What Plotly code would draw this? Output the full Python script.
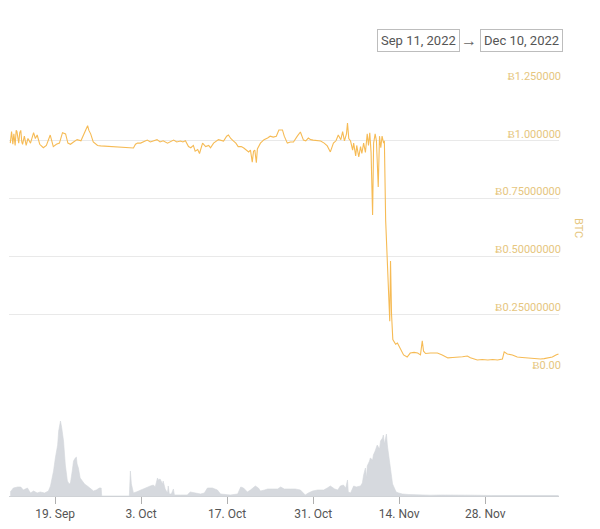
import pandas as pd
import plotly.graph_objects as go

# ---- price (BTC) ----
price_times = [
    "09-11 17", "09-11 22", "09-12 03", "09-12 07", "09-12 12", "09-12 16", "09-12 19", "09-13 02",
    "09-13 06", "09-13 10", "09-13 14", "09-13 17", "09-14 00", "09-14 07", "09-14 14", "09-15 00",
    "09-15 12", "09-15 19", "09-16 02", "09-16 12", "09-17 02", "09-17 14", "09-18 05", "09-18 17",
    "09-19 05", "09-19 17", "09-20 05", "09-20 17", "09-21 02", "09-21 12", "09-22 00", "09-22 14",
    "09-23 05", "09-23 17", "09-24 00", "09-24 07", "09-24 12", "09-24 19", "09-25 05", "09-25 22",
    "09-26 10",
    "10-01 18", "10-02 02", "10-02 10", "10-02 22", "10-03 10", "10-04 00", "10-04 12", "10-05 00",
    "10-05 14", "10-06 02", "10-06 14", "10-07 07", "10-07 19", "10-08 07", "10-08 19", "10-09 10",
    "10-09 19", "10-10 05", "10-10 17", "10-11 02", "10-11 12", "10-11 19", "10-12 05", "10-12 12",
    "10-13 00", "10-13 12", "10-14 00", "10-14 07", "10-14 19", "10-15 14", "10-16 10", "10-16 22",
    "10-17 05", "10-17 14", "10-18 00", "10-18 10", "10-18 19", "10-19 07", "10-19 17", "10-20 02",
    "10-20 12", "10-20 19", "10-21 02", "10-21 07", "10-21 12", "10-21 18", "10-21 22", "10-22 10",
    "10-23 00", "10-23 14", "10-24 00", "10-24 12", "10-25 00", "10-25 10", "10-26 00", "10-26 07",
    "10-26 19", "10-27 07", "10-27 19", "10-28 10", "10-28 22", "10-29 10", "10-29 19", "10-30 05",
    "10-30 14", "10-31 00", "10-31 12", "11-01 05", "11-01 19", "11-02 07", "11-02 19", "11-03 07",
    "11-03 17", "11-04 02", "11-04 12", "11-04 19", "11-05 02", "11-05 10", "11-05 14", "11-05 19",
    "11-06 02", "11-06 10", "11-06 14", "11-06 22", "11-07 02", "11-07 10", "11-07 17", "11-07 22",
    "11-08 05", "11-08 12", "11-08 19", "11-09 00", "11-09 05", "11-09 10", "11-09 16", "11-09 20",
    "11-10 02", "11-10 07", "11-10 14", "11-10 19", "11-11 00", "11-11 05", "11-11 11", "11-11 14",
    "11-11 19", "11-12 01", "11-12 06", "11-12 11", "11-12 14", "11-12 18", "11-12 23", "11-13 05",
    "11-13 10", "11-13 17", "11-14 00", "11-14 05", "11-14 17", "11-15 07", "11-15 19", "11-16 10",
    "11-17 00", "11-17 11", "11-17 18", "11-17 23", "11-18 07", "11-19 02", "11-20 05", "11-21 00",
    "11-21 22", "11-22 17", "11-23 12", "11-24 07", "11-25 02", "11-25 14", "11-26 17", "11-27 12",
    "11-28 10", "11-29 05", "11-30 00", "11-30 19", "12-01 02", "12-01 14", "12-02 10", "12-03 05",
    "12-04 00", "12-04 22", "12-05 17", "12-06 12", "12-07 00", "12-07 14", "12-08 02", "12-08 22",
    "12-09 12", "12-09 22",
]
price_values = [
    0.990, 1.040, 0.985, 1.030, 0.980, 1.045, 1.040, 0.990,
    1.035, 1.045, 0.995, 0.985, 1.020, 0.980, 1.010, 0.990,
    1.035, 1.010, 1.025, 0.985, 0.970, 0.980, 1.025, 0.975,
    0.985, 0.990, 1.035, 1.030, 0.990, 0.985, 0.995, 1.005,
    1.000, 1.030, 1.050, 1.065, 1.045, 1.030, 0.995, 0.980,
    0.978,
    0.969, 0.985, 0.990, 0.990, 0.995, 1.003, 0.995, 1.000,
    1.005, 0.995, 1.000, 0.990, 0.995, 1.003, 0.995, 0.999,
    0.995, 1.000, 0.975, 0.970, 0.980, 0.955, 0.962, 0.945,
    0.990, 0.975, 0.980, 0.970, 0.990, 1.005, 0.999, 1.020,
    1.025, 1.010, 1.000, 0.990, 0.975, 0.975, 0.969, 0.960,
    0.952, 0.960, 0.908, 0.955, 0.960, 0.905, 0.965, 0.990,
    1.005, 1.012, 1.020, 1.016, 1.020, 1.047, 1.047, 1.020,
    0.990, 0.995, 0.995, 1.020, 1.038, 1.003, 1.000, 1.012,
    1.005, 1.003, 1.000, 0.999, 0.990, 0.978, 0.952, 0.990,
    1.000, 1.025, 1.005, 1.040, 1.000, 1.030, 1.077, 1.010,
    0.999, 0.960, 0.990, 0.935, 0.980, 0.930, 0.975, 0.945,
    0.990, 0.950, 1.030, 0.980, 1.035, 0.950, 0.679, 0.990,
    1.030, 1.000, 0.800, 1.020, 0.970, 1.020, 0.990, 1.000,
    0.657, 0.480, 0.385, 0.220, 0.480, 0.250, 0.140, 0.130,
    0.120, 0.125, 0.110, 0.095, 0.074, 0.065, 0.082, 0.085,
    0.082, 0.074, 0.135, 0.090, 0.080, 0.082, 0.082, 0.074,
    0.061, 0.063, 0.063, 0.066, 0.069, 0.062, 0.052, 0.054,
    0.052, 0.054, 0.052, 0.056, 0.087, 0.078, 0.074, 0.065,
    0.063, 0.061, 0.061, 0.060, 0.056, 0.058, 0.061, 0.065,
    0.074, 0.078,
]

# ---- volume ----
volume_times = [
    "09-11 17", "09-12 05", "09-12 22", "09-13 10", "09-13 20", "09-14 12", "09-15 00", "09-15 12",
    "09-16 02", "09-16 14", "09-17 07", "09-17 22", "09-18 06", "09-18 18", "09-19 01", "09-19 10",
    "09-19 14", "09-19 21", "09-20 02", "09-20 09", "09-20 16", "09-20 20", "09-21 00", "09-21 07",
    "09-21 12", "09-21 19", "09-22 00", "09-22 07", "09-22 11", "09-22 14", "09-22 19", "09-23 02",
    "09-23 11", "09-23 19", "09-24 06", "09-24 18", "09-25 06", "09-25 17", "09-26 05", "09-26 12",
    "09-26 14",
    "10-01 02", "10-01 06", "10-01 10", "10-01 18", "10-02 05", "10-02 22", "10-03 10", "10-04 00",
    "10-04 12", "10-05 00", "10-05 07", "10-05 16", "10-05 19", "10-06 02", "10-06 12", "10-06 14",
    "10-06 22", "10-07 07", "10-07 10", "10-07 14", "10-07 22", "10-08 06", "10-08 10", "10-09 10",
    "10-10 12", "10-11 00", "10-11 17", "10-12 16", "10-13 07", "10-13 19", "10-14 14", "10-15 10",
    "10-15 22", "10-17 12", "10-18 17", "10-19 05", "10-19 16", "10-20 07", "10-20 19", "10-21 14",
    "10-22 02", "10-22 10", "10-23 02", "10-23 14", "10-24 10", "10-25 05", "10-25 17", "10-26 07",
    "10-27 07", "10-28 02", "10-28 22", "10-29 10", "10-29 17", "10-30 05", "10-30 22", "10-31 17",
    "11-01 17", "11-02 07", "11-02 19", "11-03 12", "11-04 00", "11-04 10", "11-04 22", "11-05 07",
    "11-05 14", "11-05 17", "11-06 02", "11-06 14", "11-07 00", "11-07 17", "11-08 00", "11-08 05",
    "11-08 12", "11-08 17", "11-08 19", "11-09 04", "11-09 07", "11-09 16", "11-09 19", "11-10 02",
    "11-10 10", "11-10 19", "11-10 23", "11-11 07", "11-11 10", "11-11 14", "11-11 22", "11-12 02",
    "11-12 10", "11-12 14", "11-12 22", "11-13 05", "11-13 12", "11-13 22", "11-14 12", "11-15 12",
    "11-16 14", "11-17 12", "11-19 02", "11-20 17", "11-23 00", "11-26 00", "11-29 00", "12-02 00",
    "12-05 00", "12-08 00", "12-09 22",
]
volume_values = [
    4, 8, 9, 9, 6, 8, 3, 5,
    3, 4, 3, 5, 10, 25, 38, 51,
    65, 75, 68, 55, 31, 22, 15, 12,
    13, 25, 35, 38, 39, 32, 28, 18,
    15, 12, 10, 7, 5, 6, 8, 8,
    0,
    0, 25, 12, 3, 4, 6, 7, 9,
    10, 11, 9, 18, 16, 17, 12, 15,
    7, 3, 10, 2, 2, 7, 1, 1,
    1, 4, 3, 2, 3, 8, 8, 6,
    2, 1, 2, 9, 8, 4, 6, 10,
    8, 5, 6, 7, 7, 7, 9, 7,
    7, 7, 6, 3, 1, 3, 5, 6,
    6, 8, 10, 7, 6, 10, 11, 8,
    16, 4, 3, 10, 9, 10, 13, 21,
    28, 18, 30, 35, 38, 36, 41, 45,
    51, 47, 55, 58, 61, 52, 62, 50,
    35, 22, 12, 8, 4, 3, 2, 1.5,
    1.2, 1, 0.8, 1, 0.6, 0.8, 0.5, 0.7,
    0.5, 0.6, 0.5,
]

# ---- axis labels ----
price_tick_vals = [0, 0.25, 0.5, 0.75, 1.0, 1.25]
price_tick_text = ["Ƀ0.00", "Ƀ0.25000000", "Ƀ0.50000000", "Ƀ0.75000000", "Ƀ1.000000", "Ƀ1.250000"]
date_tick_vals = ["2022-09-19", "2022-10-03", "2022-10-17", "2022-10-31", "2022-11-14", "2022-11-28"]
date_tick_text = ["19. Sep", "3. Oct", "17. Oct", "31. Oct", "14. Nov", "28. Nov"]
range_start_label = "Sep 11, 2022"
range_end_label = "Dec 10, 2022"


def to_ts(lst):
    return pd.to_datetime(["2022-" + t + ":00" for t in lst])


GOLD = "#e6c67e"
FONT = "Roboto"

fig = go.Figure()
fig.add_trace(go.Scatter(
    x=to_ts(volume_times), y=volume_values, mode="lines",
    line=dict(color="#d4d7dc", width=0.6), fill="tozeroy", fillcolor="#d6d9de",
    xaxis="x", yaxis="y2", hoverinfo="skip", showlegend=False,
))
fig.add_trace(go.Scatter(
    x=to_ts(price_times), y=price_values, mode="lines",
    line=dict(color="#f6bb55", width=1.1),
    xaxis="x", yaxis="y", showlegend=False,
))

fig.update_layout(
    width=600, height=529,
    margin=dict(l=9, r=41, t=83, b=33),
    paper_bgcolor="white", plot_bgcolor="white",
    font=dict(family=FONT, color="#555"),
    xaxis=dict(
        anchor="y2", range=["2022-09-11 12:00", "2022-12-10 00:00"],
        tickvals=date_tick_vals, ticktext=date_tick_text,
        ticks="outside", ticklen=7, tickcolor="#b0b0b0", tickwidth=1,
        showline=True, linecolor="#cfd2d6", linewidth=1,
        showgrid=False, zeroline=False,
        tickfont=dict(size=12, color="#555", family=FONT),
    ),
    yaxis=dict(
        domain=[0.3002, 1.0], range=[0, 1.25], side="right",
        tickvals=price_tick_vals, ticktext=price_tick_text,
        ticklabelposition="inside", ticklabelshift=-7, ticklabeloverflow="allow",
        ticklabelstandoff=-5,
        showgrid=True, gridcolor="#e9e9e9", gridwidth=1, zeroline=False,
        showline=False, ticks="",
        tickfont=dict(size=11, color=GOLD, family=FONT),
    ),
    yaxis2=dict(
        domain=[0, 0.184], range=[0, 76], visible=False, showgrid=False,
    ),
    annotations=[
        dict(text="BTC", xref="paper", yref="paper", x=1.0345, y=0.649,
             xanchor="center", yanchor="middle",
             textangle=90, showarrow=False, font=dict(size=11, color=GOLD, family=FONT)),
        dict(text=range_start_label, xref="paper", yref="paper", x=0.7445, y=1.1017,
             xanchor="center", yanchor="middle",
             showarrow=False, bordercolor="#bdbdbd", borderwidth=1, borderpad=3,
             bgcolor="white", font=dict(size=13, color="#555", family=FONT)),
        dict(text="→", xref="paper", yref="paper", x=0.836, y=1.1017,
             xanchor="center", yanchor="middle",
             showarrow=False, font=dict(size=16, color="#666", family=FONT)),
        dict(text=range_end_label, xref="paper", yref="paper", x=0.9327, y=1.1017,
             xanchor="center", yanchor="middle",
             showarrow=False, bordercolor="#bdbdbd", borderwidth=1, borderpad=3,
             bgcolor="white", font=dict(size=13, color="#555", family=FONT)),
    ],
)

fig.write_html("out.html", config={"displayModeBar": False},
               post_script="document.body.style.margin='0';")
